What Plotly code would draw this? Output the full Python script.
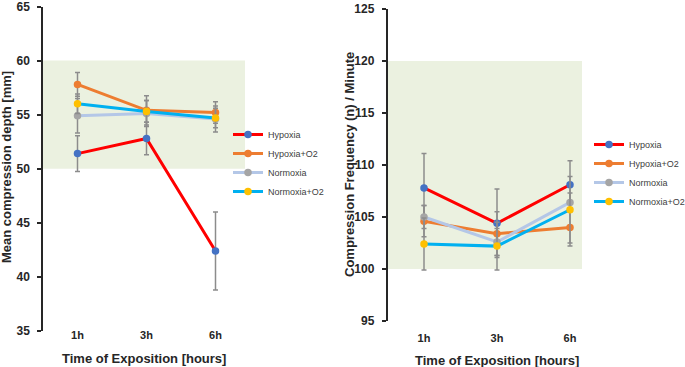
import plotly.graph_objects as go

categories = ["1h", "3h", "6h"]
series_names = ["Hypoxia", "Hypoxia+O2", "Normoxia", "Normoxia+O2"]

# Left chart: mean compression depth [mm]
depth_hypoxia = [51.4, 52.8, 42.4]
depth_hypoxia_o2 = [57.8, 55.4, 55.2]
depth_normoxia = [54.9, 55.1, 54.6]
depth_normoxia_o2 = [56.0, 55.3, 54.7]
depth_err_hypoxia = [1.65, 1.5, 3.6]
depth_err_hypoxia_o2 = [1.1, 1.35, 1.0]
depth_err_normoxia = [1.6, 1.2, 1.2]
depth_err_normoxia_o2 = [0.9, 1.0, 0.9]

# Right chart: compression frequency (n) / minute
freq_hypoxia = [107.8, 104.4, 108.1]
freq_hypoxia_o2 = [104.6, 103.4, 104.0]
freq_normoxia = [105.0, 102.6, 106.4]
freq_normoxia_o2 = [102.4, 102.2, 105.7]
freq_err_hypoxia = [3.3, 3.3, 2.3]
freq_err_hypoxia_o2 = [1.5, 2.1, 1.8]
freq_err_normoxia = [1.1, 1.3, 0.9]
freq_err_normoxia_o2 = [2.5, 2.3, 3.2]

line_colors = ["#FF0000", "#ED7D31", "#B4C7E7", "#00B0F0"]
marker_colors = ["#4472C4", "#ED7D31", "#A5A5A5", "#FFC000"]

depth_vals = [depth_hypoxia, depth_hypoxia_o2, depth_normoxia, depth_normoxia_o2]
depth_errs = [depth_err_hypoxia, depth_err_hypoxia_o2, depth_err_normoxia, depth_err_normoxia_o2]
freq_vals = [freq_hypoxia, freq_hypoxia_o2, freq_normoxia, freq_normoxia_o2]
freq_errs = [freq_err_hypoxia, freq_err_hypoxia_o2, freq_err_normoxia, freq_err_normoxia_o2]

W, H = 685, 367


def px(x):
    return x / W


def py(y):
    return 1 - y / H


fig = go.Figure()

for i, name in enumerate(series_names):
    fig.add_trace(go.Scatter(
        x=categories, y=depth_vals[i], name=name, mode="lines+markers",
        line=dict(color=line_colors[i], width=3),
        marker=dict(color=marker_colors[i], size=7.5),
        error_y=dict(type="data", array=depth_errs[i], visible=True,
                     color="#8C8C8C", thickness=1.5, width=2.5),
        xaxis="x", yaxis="y", legend="legend",
    ))
for i, name in enumerate(series_names):
    fig.add_trace(go.Scatter(
        x=categories, y=freq_vals[i], name=name, mode="lines+markers",
        line=dict(color=line_colors[i], width=3),
        marker=dict(color=marker_colors[i], size=7.5),
        error_y=dict(type="data", array=freq_errs[i], visible=True,
                     color="#8C8C8C", thickness=1.5, width=2.5),
        xaxis="x2", yaxis="y2", legend="legend2",
    ))

ytickfont = dict(family="Liberation Sans", size=12, color="#262626", weight="bold")
xtickfont = dict(family="Liberation Sans", size=11, color="#262626", weight="bold")
xl = [px(43), px(250)]
xr = [px(387.5), px(606.5)]
yl = [py(331), py(6.5)]
yr = [py(321), py(9)]

axis_x = dict(type="category", range=[-0.5, 2.5], showline=False, showgrid=False,
              zeroline=False, ticks="", tickfont=xtickfont, fixedrange=True,
              automargin=False, anchor="free")
axis_y = dict(showline=True, linecolor="#262626", linewidth=1.5, ticks="outside",
              ticklen=4, tickwidth=1.5, tickcolor="#262626", showgrid=False,
              zeroline=False, dtick=5, tickfont=ytickfont, ticklabelstandoff=5,
              ticklabeloverflow="allow", automargin=False, fixedrange=True)

legend_style = dict(font=dict(family="Liberation Sans", size=9, color="#404040"),
                    bgcolor="rgba(0,0,0,0)", tracegroupgap=0, itemwidth=30,
                    xanchor="left", yanchor="middle")

title_font = dict(family="Liberation Sans", size=13, color="#262626")

fig.update_layout(
    template="none",
    width=W, height=H, margin=dict(l=0, r=0, t=0, b=0, autoexpand=False),
    paper_bgcolor="white", plot_bgcolor="white", showlegend=True,
    xaxis=dict(axis_x, domain=xl, position=py(327)),
    yaxis=dict(axis_y, domain=yl, range=[35, 65], anchor="x"),
    xaxis2=dict(axis_x, domain=xr, position=py(330)),
    yaxis2=dict(axis_y, domain=yr, range=[95, 125], anchor="x2"),
    legend=dict(legend_style, x=px(228), y=py(163)),
    legend2=dict(legend_style, x=px(589), y=py(173)),
    shapes=[
        dict(type="rect", xref="x domain", yref="y", x0=0, x1=(245 - 43) / 207,
             y0=50, y1=60, fillcolor="#EBF1E0", line=dict(width=0), layer="below"),
        dict(type="rect", xref="x2 domain", yref="y2", x0=0, x1=(582 - 387.5) / 219,
             y0=100, y1=120, fillcolor="#EBF1E0", line=dict(width=0), layer="below"),
    ],
    annotations=[
        dict(text="<b>Time of Exposition [hours]</b>", xref="paper", yref="paper",
             x=px(144), y=py(358), xanchor="center", yanchor="middle",
             showarrow=False, font=title_font),
        dict(text="<b>Time of Exposition [hours]</b>", xref="paper", yref="paper",
             x=px(497), y=py(360), xanchor="center", yanchor="middle",
             showarrow=False, font=title_font),
        dict(text="<b>Mean compression depth [mm]</b>", xref="paper", yref="paper",
             x=px(7), y=py(167), xanchor="center", yanchor="middle",
             showarrow=False, textangle=-90, font=title_font),
        dict(text="<b>Compression Frequency (n) / Minute</b>", xref="paper", yref="paper",
             x=px(349), y=py(165), xanchor="center", yanchor="middle",
             showarrow=False, textangle=-90, font=title_font),
    ],
)

# remove the default 8px page margin so the figure fills the window exactly
fig.write_html("out.html", config={"displayModeBar": False},
               post_script="document.body.style.margin='0';")
